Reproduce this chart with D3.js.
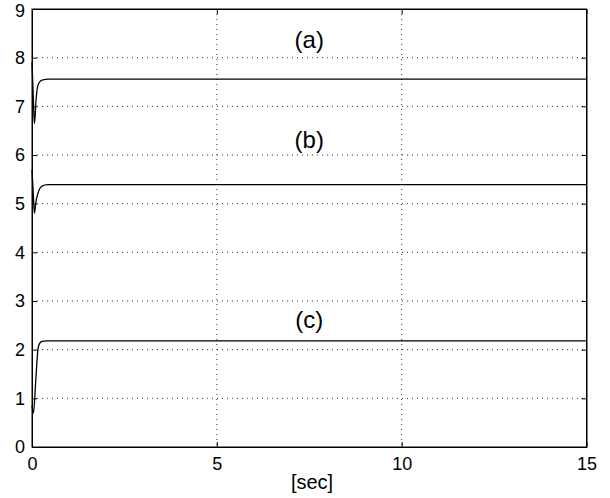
<!DOCTYPE html>
<html lang="en">
<head>
    <meta charset="UTF-8">
    <title>Responses</title>
    <script src="https://cdnjs.cloudflare.com/ajax/libs/d3/7.8.5/d3.min.js"></script>
    <style>
        body{
            margin:0;
            background:#fff;
        }
        svg{
            font-family:"Liberation Sans", Arial, Helvetica, sans-serif;
        }
    </style>
</head>
<body>
    <svg width="610" height="498"></svg>
    <script>
// time points and values
const timeA = [0, 0.035, 0.065, 0.085, 0.105, 0.135, 0.18, 0.27, 0.45, 15];
const seriesA = [7.9, 7.2, 6.65, 6.8, 7.08, 7.33, 7.47, 7.54, 7.56, 7.56];

const timeB = [0, 0.035, 0.065, 0.085, 0.105, 0.135, 0.18, 0.27, 0.42, 15];
const seriesB = [5.69, 5.2, 4.8, 4.9, 5.03, 5.14, 5.26, 5.36, 5.39, 5.39];

const timeC = [0, 0.04, 0.1, 0.16, 0.2, 0.27, 0.4, 15];
const seriesC = [0.85, 0.7, 1.35, 2.0, 2.12, 2.17, 2.18, 2.18];

const labels = ["(a)", "(b)", "(c)"];
const labelT = [7.5, 7.5, 7.5];
const labelV = [8.19, 6.14, 2.44];

const xTicks = [0, 5, 10, 15];
const yTicks = [0, 1, 2, 3, 4, 5, 6, 7, 8, 9];
const xLabel = "[sec]";

const svg = d3.select("svg");
const mLeft = 32, mRight = 586.5, mTop = 9, mBottom = 447;

const x = d3.scaleLinear().domain([0, 15]).range([mLeft, mRight]);
const y = d3.scaleLinear().domain([0, 9]).range([mBottom, mTop]);

// dotted grid
const grid = svg.append("g").attr("class", "grid");
grid.selectAll("line.gx")
    .data(xTicks.slice(1, -1))
    .enter()
    .append("line")
    .attr("x1", d => x(d)).attr("x2", d => x(d))
    .attr("y1", mTop).attr("y2", mBottom);
grid.selectAll("line.gy")
    .data(yTicks.slice(1, -1))
    .enter()
    .append("line")
    .attr("x1", mLeft).attr("x2", mRight)
    .attr("y1", d => y(d)).attr("y2", d => y(d));
grid.selectAll("line")
    .attr("stroke", "#333")
    .attr("stroke-width", 1)
    .attr("stroke-dasharray", "1,4");

// axes with inner ticks
svg.append("g")
    .attr("transform", `translate(0,${mBottom})`)
    .call(d3.axisBottom(x).tickValues(xTicks).tickSizeInner(-5).tickSizeOuter(0).tickPadding(10));
const yAxis = svg.append("g")
    .attr("transform", `translate(${mLeft},0)`)
    .call(d3.axisLeft(y).tickValues(yTicks).tickSizeInner(-5).tickSizeOuter(0).tickPadding(7));
svg.append("g")
    .attr("transform", `translate(0,${mTop})`)
    .call(d3.axisTop(x).tickValues(xTicks).tickSizeInner(-5).tickSizeOuter(0).tickFormat(""));
svg.append("g")
    .attr("transform", `translate(${mRight},0)`)
    .call(d3.axisRight(y).tickValues(yTicks).tickSizeInner(-5).tickSizeOuter(0).tickFormat(""));

svg.selectAll(".tick text")
    .attr("font-size", 18)
    .attr("font-family", "Liberation Sans, Arial, sans-serif")
    .attr("fill", "#000");
svg.selectAll(".domain, .tick line").attr("stroke", "#000");

// top label sits right at the edge, nudge it down a hair
yAxis.selectAll(".tick text")
    .filter(d => d === 9)
    .attr("y", 2);

// box
svg.append("rect")
    .attr("x", mLeft).attr("y", mTop)
    .attr("width", mRight - mLeft).attr("height", mBottom - mTop)
    .attr("fill", "none")
    .attr("stroke", "#000");

// curves
const line = d3.line()
    .x(d => x(d[0]))
    .y(d => y(d[1]))
    .curve(d3.curveMonotoneX);

const curves = [
    d3.zip(timeA, seriesA),
    d3.zip(timeB, seriesB),
    d3.zip(timeC, seriesC)
];

svg.append("g")
    .selectAll("path")
    .data(curves)
    .enter()
    .append("path")
    .attr("d", d => line(d))
    .attr("fill", "none")
    .attr("stroke", "#000")
    .attr("stroke-width", 1.3)
    .attr("stroke-linejoin", "round");

// curve names
svg.append("g")
    .selectAll("text")
    .data(labels)
    .enter()
    .append("text")
    .attr("x", (d, i) => x(labelT[i]))
    .attr("y", (d, i) => y(labelV[i]))
    .attr("text-anchor", "middle")
    .attr("font-size", 24)
    .text(d => d);

svg.append("text")
    .attr("x", 312)
    .attr("y", 489)
    .attr("text-anchor", "middle")
    .attr("font-size", 20)
    .text(xLabel);
    </script>
</body>
</html>
